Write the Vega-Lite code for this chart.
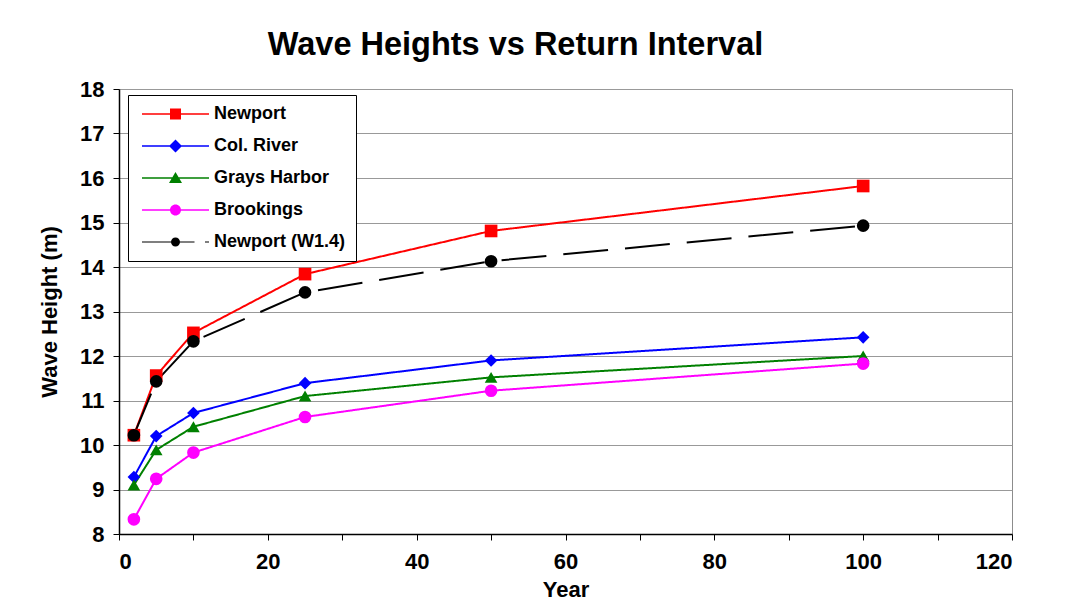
{
  "$schema": "https://vega.github.io/schema/vega-lite/v6.json",
  "width": 893,
  "height": 445,
  "autosize": {"type": "none"},
  "padding": {"left": 119, "top": 89, "right": 55, "bottom": 76},
  "background": "white",
  "title": {"text": "Wave Heights vs Return Interval", "font": "Liberation Sans", "fontSize": 32.5, "fontWeight": "bold", "color": "black", "offset": 17, "anchor": "middle", "dx": -50},
  "config": {
    "view": {"stroke": "#8c8c8c", "strokeWidth": 1},
    "axis": {"labelFont": "Liberation Sans", "labelFontWeight": "bold", "labelFontSize": 22, "labelColor": "black", "titleFont": "Liberation Sans", "titleFontWeight": "bold", "titleFontSize": 22, "titleColor": "black", "domainColor": "black", "domainWidth": 1.5, "tickColor": "black", "tickSize": 6}
  },
  "data": {"values": [
    {"series": "Newport", "year": 2, "height": 10.22},
    {"series": "Newport", "year": 5, "height": 11.56},
    {"series": "Newport", "year": 10, "height": 12.52},
    {"series": "Newport", "year": 25, "height": 13.84},
    {"series": "Newport", "year": 50, "height": 14.81},
    {"series": "Newport", "year": 100, "height": 15.82},
    {"series": "Col. River", "year": 2, "height": 9.28},
    {"series": "Col. River", "year": 5, "height": 10.2},
    {"series": "Col. River", "year": 10, "height": 10.72},
    {"series": "Col. River", "year": 25, "height": 11.39},
    {"series": "Col. River", "year": 50, "height": 11.9},
    {"series": "Col. River", "year": 100, "height": 12.42},
    {"series": "Grays Harbor", "year": 2, "height": 9.1},
    {"series": "Grays Harbor", "year": 5, "height": 9.89},
    {"series": "Grays Harbor", "year": 10, "height": 10.41},
    {"series": "Grays Harbor", "year": 25, "height": 11.1},
    {"series": "Grays Harbor", "year": 50, "height": 11.52},
    {"series": "Grays Harbor", "year": 100, "height": 12.0},
    {"series": "Brookings", "year": 2, "height": 8.33},
    {"series": "Brookings", "year": 5, "height": 9.24},
    {"series": "Brookings", "year": 10, "height": 9.83},
    {"series": "Brookings", "year": 25, "height": 10.63},
    {"series": "Brookings", "year": 50, "height": 11.22},
    {"series": "Brookings", "year": 100, "height": 11.83},
    {"series": "Newport (W1.4)", "year": 2, "height": 10.22},
    {"series": "Newport (W1.4)", "year": 5, "height": 11.43},
    {"series": "Newport (W1.4)", "year": 10, "height": 12.33},
    {"series": "Newport (W1.4)", "year": 25, "height": 13.43},
    {"series": "Newport (W1.4)", "year": 50, "height": 14.13},
    {"series": "Newport (W1.4)", "year": 100, "height": 14.93}
  ]},
  "encoding": {
    "x": {"field": "year", "type": "quantitative", "title": "Year",
      "scale": {"domain": [0, 120], "nice": false},
      "axis": {"values": [0, 10, 20, 30, 40, 50, 60, 70, 80, 90, 100, 110, 120], "labelExpr": "datum.value % 20 == 0 ? datum.label : ''", "grid": false, "labelPadding": 11, "titlePadding": 7}},
    "y": {"field": "height", "type": "quantitative", "title": "Wave Height (m)",
      "scale": {"domain": [8, 18], "nice": false, "zero": false},
      "axis": {"values": [8, 9, 10, 11, 12, 13, 14, 15, 16, 17, 18], "grid": true, "gridColor": "#999999", "gridWidth": 1, "labelPadding": 9, "titlePadding": 18}}
  },
  "layer": [
    {
      "mark": {"type": "line", "strokeWidth": 2},
      "encoding": {
        "color": {"field": "series", "type": "nominal", "legend": null,
          "scale": {"domain": ["Newport", "Col. River", "Grays Harbor", "Brookings", "Newport (W1.4)"], "range": ["#ff0000", "#0000ff", "#008000", "#ff00ff", "#000000"]}},
        "strokeDash": {"field": "series", "type": "nominal", "legend": null,
          "scale": {"domain": ["Newport", "Col. River", "Grays Harbor", "Brookings", "Newport (W1.4)"], "range": [[1, 0], [1, 0], [1, 0], [1, 0], [45, 17]]}},
        "strokeWidth": {"field": "series", "type": "nominal", "legend": null,
          "scale": {"domain": ["Newport", "Col. River", "Grays Harbor", "Brookings", "Newport (W1.4)"], "range": [2, 2, 2, 2, 1.3]}}
      }
    },
    {
      "mark": {"type": "point", "filled": true, "opacity": 1, "size": 160},
      "encoding": {
        "color": {"field": "series", "type": "nominal", "legend": null,
          "scale": {"domain": ["Newport", "Col. River", "Grays Harbor", "Brookings", "Newport (W1.4)"], "range": ["#ff0000", "#0000ff", "#008000", "#ff00ff", "#000000"]}},
        "shape": {"field": "series", "type": "nominal", "legend": null,
          "scale": {"domain": ["Newport", "Col. River", "Grays Harbor", "Brookings", "Newport (W1.4)"], "range": ["square", "diamond", "triangle-up", "circle", "circle"]}}
      }
    },
    {
      "mark": {"type": "point", "filled": true, "opacity": 0, "size": 100},
      "encoding": {
        "color": {"field": "series", "type": "nominal",
          "scale": {"domain": ["Newport", "Col. River", "Grays Harbor", "Brookings", "Newport (W1.4)"], "range": ["#ff0000", "#0000ff", "#008000", "#ff00ff", "#000000"]},
          "legend": {"orient": "none", "legendX": 9, "legendY": 6, "title": null, "strokeColor": "black", "fillColor": "white", "padding": 10, "symbolSize": 100, "symbolOpacity": 1, "symbolStrokeWidth": 0, "labelFont": "Liberation Sans", "labelFontWeight": "bold", "labelFontSize": 18, "labelColor": "black", "labelOffset": 58, "rowPadding": 14, "labelLimit": 300}},
        "shape": {"field": "series", "type": "nominal",
          "scale": {"domain": ["Newport", "Col. River", "Grays Harbor", "Brookings", "Newport (W1.4)"], "range": [
            "M-1,-0.15H12.4V0.15H-1Z M4.6,-1.1H6.8V1.1H4.6Z",
            "M-1,-0.15H12.4V0.15H-1Z M5.7,-1.3L7.0,0L5.7,1.3L4.4,0Z",
            "M-1,-0.15H12.4V0.15H-1Z M5.7,-1.2L7.0,1.0L4.4,1.0Z",
            "M-1,-0.15H12.4V0.15H-1Z M4.6,0A1.1,1.1 0 1,1 6.8,0A1.1,1.1 0 1,1 4.6,0Z",
            "M-1,-0.11H9.5V0.11H-1Z M11.6,-0.11H12.4V0.11H11.6Z M4.8,0A0.9,0.9 0 1,1 6.6,0A0.9,0.9 0 1,1 4.8,0Z"
          ]},
          "legend": {"orient": "none", "legendX": 9, "legendY": 6, "title": null, "strokeColor": "black", "fillColor": "white", "padding": 10, "symbolSize": 100, "symbolOpacity": 1, "symbolStrokeWidth": 0, "labelFont": "Liberation Sans", "labelFontWeight": "bold", "labelFontSize": 18, "labelColor": "black", "labelOffset": 58, "rowPadding": 14, "labelLimit": 300}}
      }
    }
  ],
  "resolve": {"scale": {"color": "independent", "shape": "independent", "strokeDash": "independent", "strokeWidth": "independent"}}
}
